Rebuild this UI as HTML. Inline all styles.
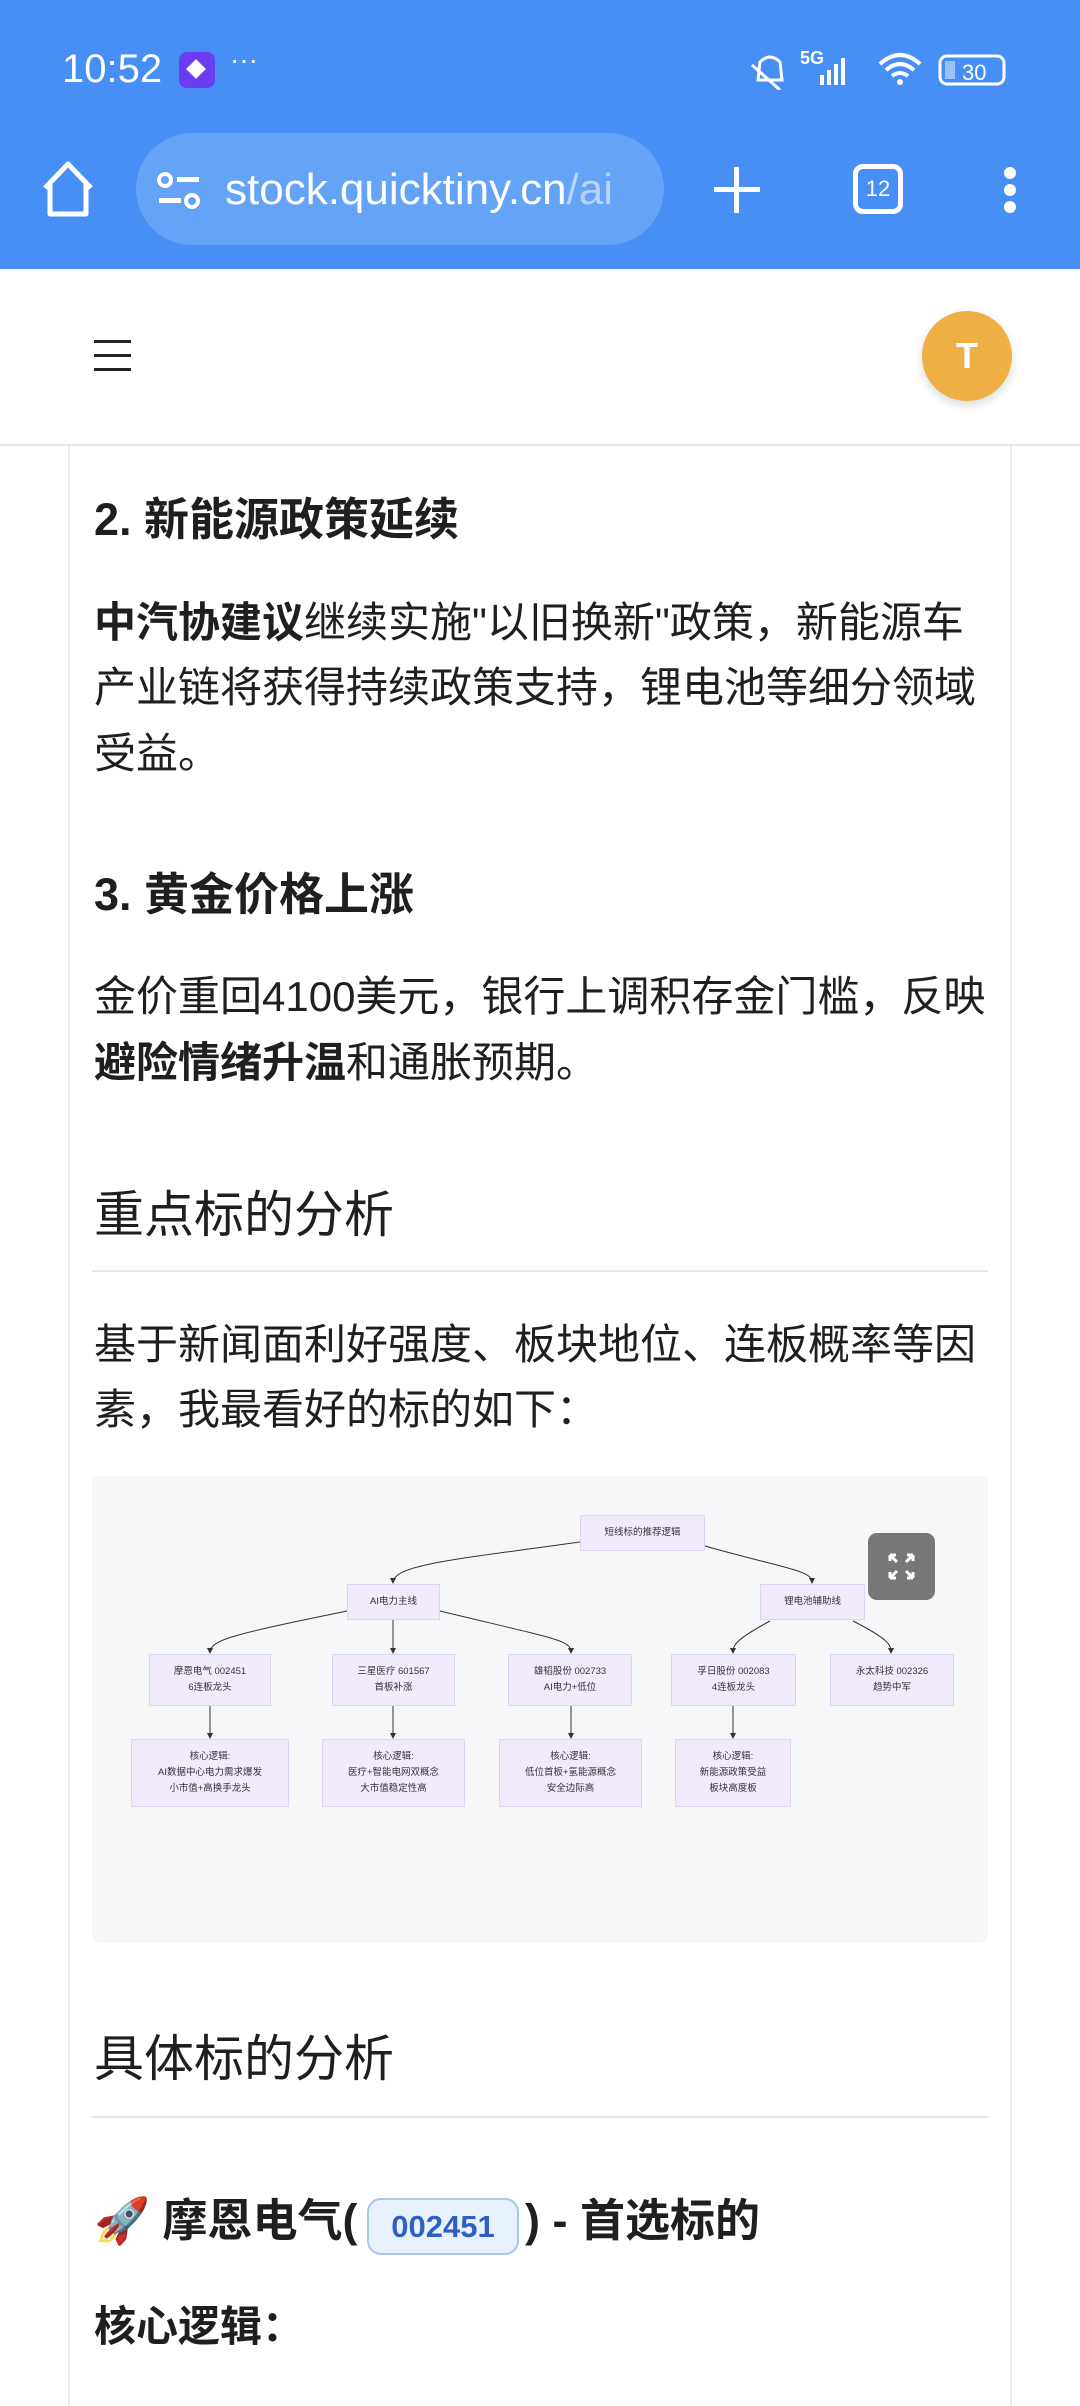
<!DOCTYPE html>
<html><head><meta charset="utf-8"><style>
*{margin:0;padding:0;box-sizing:border-box}
body{width:1080px;height:2400px;position:relative;background:#fff;font-family:"Liberation Sans","Noto Sans CJK SC",sans-serif;color:#1f1f1f;overflow:hidden}
.a{position:absolute;white-space:nowrap}
.t{position:absolute;white-space:nowrap;left:94px;font-size:42px;line-height:60px;transform:translateY(-30px)}
.h3{font-weight:bold;font-size:45px}
.h2{font-size:50px}
.hr{position:absolute;left:92px;width:896px;height:2px;background:#e6e6e6}
.n{position:absolute;background:#f1ebfc;border:1px solid #e0d4f5;font-size:9.5px;line-height:16px;text-align:center;color:#333;display:flex;flex-direction:column;justify-content:center;align-items:center}
</style></head><body>
<div class="a" style="left:0;top:0;width:1080px;height:269px;background:#478ff4"></div>
<div class="a" style="left:62px;top:46px;font-size:40px;color:#fff;line-height:46px">10:52</div>
<div class="a" style="left:179px;top:52px;width:36px;height:36px;background:#6b3cf0;border-radius:8px"></div>
<div class="a" style="left:189px;top:62px;width:14px;height:14px;background:#fff;transform:rotate(45deg)"></div>
<div class="a" style="left:230px;top:44px;font-size:28px;color:#fff">···</div>
<div class="a" style="left:800px;top:48px;font-size:18px;font-weight:bold;color:#fff">5G</div>
<svg class="a" style="left:750px;top:50px" width="260" height="40"><g fill="#fff"><rect x="70" y="25" width="4" height="10"/><rect x="77" y="20" width="4" height="15"/><rect x="84" y="14" width="4" height="21"/><rect x="91" y="8" width="4" height="27"/></g><path d="M2 15 L30 40 M10 12 Q20 2 30 12 L32 30 L8 30 Z" stroke="#fff" stroke-width="3" fill="none"/><path d="M130 14 Q150 -4 170 14 M136 20 Q150 8 164 20 M142 26 Q150 20 158 26" stroke="#fff" stroke-width="4" fill="none"/><circle cx="150" cy="32" r="3" fill="#fff"/><rect x="190" y="6" width="64" height="28" rx="7" stroke="#fff" stroke-width="3" fill="none"/><rect x="195" y="11" width="10" height="18" fill="#9cc0f8"/><text x="212" y="30" font-size="22" fill="#fff" font-family="Liberation Sans">30</text></svg>
<svg class="a" style="left:40px;top:160px" width="56" height="60"><path d="M5 28 L28 4 L51 28 M10 24 V54 H46 V24" stroke="#fff" stroke-width="5" fill="none" stroke-linejoin="round"/></svg>
<div class="a" style="left:136px;top:133px;width:528px;height:112px;border-radius:56px;background:#64a3f6"></div>
<svg class="a" style="left:157px;top:172px" width="46" height="40"><circle cx="8" cy="8" r="6" stroke="#fff" stroke-width="4" fill="none"/><rect x="20" y="5" width="22" height="5" fill="#fff"/><rect x="2" y="26" width="22" height="5" fill="#fff"/><circle cx="35" cy="29" r="6" stroke="#fff" stroke-width="4" fill="none"/></svg>
<div class="a" style="left:225px;top:162px;font-size:44px;line-height:56px;color:#fff">stock.quicktiny.cn<span style="color:#b8d4fb">/ai</span></div>
<div class="a" style="left:714px;top:187px;width:46px;height:5px;background:#fff"></div>
<div class="a" style="left:734px;top:167px;width:5px;height:46px;background:#fff"></div>
<div class="a" style="left:853px;top:164px;width:50px;height:50px;border:5px solid #fff;border-radius:10px;color:#fff;font-size:22px;text-align:center;line-height:40px">12</div>
<div class="a" style="left:1004px;top:167px;width:12px;height:12px;border-radius:6px;background:#fff"></div>
<div class="a" style="left:1004px;top:184px;width:12px;height:12px;border-radius:6px;background:#fff"></div>
<div class="a" style="left:1004px;top:201px;width:12px;height:12px;border-radius:6px;background:#fff"></div>
<div class="a" style="left:0;top:444px;width:1080px;height:2px;background:#e6e6e6"></div>
<div class="a" style="left:94px;top:340px;width:37px;height:3px;background:#222"></div>
<div class="a" style="left:94px;top:354px;width:37px;height:3px;background:#222"></div>
<div class="a" style="left:94px;top:368px;width:37px;height:3px;background:#222"></div>
<div class="a" style="left:922px;top:311px;width:90px;height:90px;border-radius:45px;background:#eeb043;box-shadow:0 4px 10px rgba(0,0,0,.15);color:#fff;font-size:36px;font-weight:bold;text-align:center;line-height:90px">T</div>
<div class="a" style="left:68px;top:446px;width:2px;height:1960px;background:#ececec"></div>
<div class="a" style="left:1010px;top:446px;width:2px;height:1960px;background:#ececec"></div>

<div class="t h3" style="top:520px">2. 新能源政策延续</div>
<div class="t" style="top:623px"><b>中汽协建议</b>继续实施"以旧换新"政策，新能源车</div>
<div class="t" style="top:688px">产业链将获得持续政策支持，锂电池等细分领域</div>
<div class="t" style="top:754px">受益。</div>
<div class="t h3" style="top:895px">3. 黄金价格上涨</div>
<div class="t" style="top:997px">金价重回4100美元，银行上调积存金门槛，反映</div>
<div class="t" style="top:1063px"><b>避险情绪升温</b>和通胀预期。</div>
<div class="t h2" style="top:1215px">重点标的分析</div>
<div class="hr" style="top:1270px"></div>
<div class="t" style="top:1345px">基于新闻面利好强度、板块地位、连板概率等因</div>
<div class="t" style="top:1410px">素，我最看好的标的如下：</div>

<div class="a" style="left:92px;top:1476px;width:896px;height:467px;background:#f6f7f9;border-radius:8px"></div>
<svg class="a" style="left:0;top:0" width="1080" height="2400">
<defs><marker id="m" markerWidth="6" markerHeight="6" refX="5" refY="3" orient="auto"><path d="M0 0 L6 3 L0 6 Z" fill="#333"/></marker></defs>
<g stroke="#333" stroke-width="1" fill="none" marker-end="url(#m)">
<path d="M580 1542 C450 1560 393 1565 393 1583"/>
<path d="M705 1546 C790 1570 812 1570 812 1583"/>
<path d="M347 1611 C230 1635 210 1640 210 1653"/>
<path d="M393 1620 L393 1653"/>
<path d="M440 1611 C560 1640 571 1640 571 1653"/>
<path d="M770 1621 C735 1640 733 1645 733 1653"/>
<path d="M853 1621 C890 1640 891 1645 891 1653"/>
<path d="M210 1706 L210 1738"/><path d="M393 1706 L393 1738"/><path d="M571 1706 L571 1738"/><path d="M733 1706 L733 1738"/>
</g></svg>
<div class="n" style="left:580px;top:1515px;width:125px;height:36px">短线标的推荐逻辑</div>
<div class="n" style="left:347px;top:1584px;width:93px;height:36px">AI电力主线</div>
<div class="n" style="left:760px;top:1584px;width:105px;height:36px">锂电池辅助线</div>
<div class="n" style="left:149px;top:1654px;width:122px;height:52px"><div>摩恩电气 002451</div><div>6连板龙头</div></div>
<div class="n" style="left:332px;top:1654px;width:123px;height:52px"><div>三星医疗 601567</div><div>首板补涨</div></div>
<div class="n" style="left:508px;top:1654px;width:124px;height:52px"><div>雄韬股份 002733</div><div>AI电力+低位</div></div>
<div class="n" style="left:671px;top:1654px;width:125px;height:52px"><div>孚日股份 002083</div><div>4连板龙头</div></div>
<div class="n" style="left:830px;top:1654px;width:124px;height:52px"><div>永太科技 002326</div><div>趋势中军</div></div>
<div class="n" style="left:131px;top:1739px;width:158px;height:68px"><div>核心逻辑:</div><div>AI数据中心电力需求爆发</div><div>小市值+高换手龙头</div></div>
<div class="n" style="left:322px;top:1739px;width:143px;height:68px"><div>核心逻辑:</div><div>医疗+智能电网双概念</div><div>大市值稳定性高</div></div>
<div class="n" style="left:499px;top:1739px;width:143px;height:68px"><div>核心逻辑:</div><div>低位首板+氢能源概念</div><div>安全边际高</div></div>
<div class="n" style="left:675px;top:1739px;width:116px;height:68px"><div>核心逻辑:</div><div>新能源政策受益</div><div>板块高度板</div></div>
<div class="a" style="left:868px;top:1533px;width:67px;height:67px;background:#777;border-radius:9px"></div>
<svg class="a" style="left:868px;top:1533px" width="67" height="67"><g stroke="#fff" stroke-width="3" fill="none"><path d="M22 22 L29 29 M22 22 h6 M22 22 v6 M45 22 L38 29 M45 22 h-6 M45 22 v6 M22 45 L29 38 M22 45 h6 M22 45 v-6 M45 45 L38 38 M45 45 h-6 M45 45 v-6"/></g></svg>

<div class="t h2" style="top:2059px">具体标的分析</div>
<div class="hr" style="top:2116px"></div>
<div class="t h3" style="top:2221px">🚀 摩恩电气(</div>
<div class="a" style="left:367px;top:2198px;width:152px;height:57px;background:#e8f2fe;border:2px solid #a8c8ec;border-radius:14px;color:#2f5fc4;font-size:31px;font-weight:bold;text-align:center;line-height:53px">002451</div>
<div class="t h3" style="top:2221px;left:525px">) - 首选标的</div>
<div class="t h3" style="top:2327px;font-size:42px">核心逻辑：</div>
</body></html>
